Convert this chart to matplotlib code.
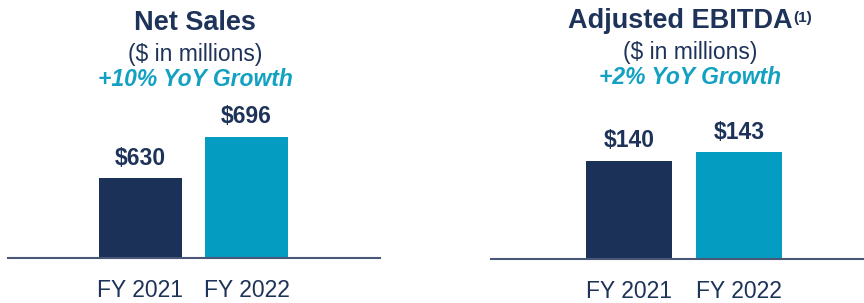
import matplotlib
matplotlib.use("Agg")
import matplotlib.pyplot as plt

years = ["FY 2021", "FY 2022"]
net_sales = [630, 696]
ebitda = [140, 143]
net_sales_labels = ["$630", "$696"]
ebitda_labels = ["$140", "$143"]

NAVY = "#1B3158"
TEAL = "#059CC1"
TEXT = "#1E3359"
GROWTH = "#12A1C3"
LINE = "#4A5878"

plt.rcParams["font.family"] = ["Liberation Sans", "DejaVu Sans"]

W, H = 864, 303
fig = plt.figure(figsize=(W / 100, H / 100), dpi=100)


def px_axes(x0, x1, ybase, ytop):
    # pixel box (from top-left) -> figure fraction
    return fig.add_axes([x0 / W, (H - ybase) / H, (x1 - x0) / W, (ybase - ytop) / H])


def draw_panel(ax, values, labels, ylim, xlim):
    ax.bar([0, 1], values, width=0.78, color=[NAVY, TEAL], zorder=2)
    ax.set_ylim(*ylim)
    ax.set_xlim(*xlim)
    for i, (v, lab) in enumerate(zip(values, labels)):
        ax.annotate(lab, (i, v), xytext=(0, 6), textcoords="offset points",
                    ha="center", va="bottom", fontsize=16.5, fontweight="bold",
                    color=TEXT)
    for s in ["top", "left", "right"]:
        ax.spines[s].set_visible(False)
    ax.spines["bottom"].set_color(LINE)
    ax.spines["bottom"].set_linewidth(1.5)
    ax.set_yticks([])
    ax.set_xticks([0, 1])
    ax.set_xticklabels(years, fontsize=16.5, color=TEXT)
    ax.tick_params(axis="x", length=0, pad=15)


# Net Sales panel
ax1 = px_axes(8, 380, 258, 20)
draw_panel(ax1, net_sales, net_sales_labels, (501, 884), (-1.25, 2.26))

# Adjusted EBITDA panel
ax2 = px_axes(491, 864, 259, 20)
draw_panel(ax2, ebitda, ebitda_labels, (105, 190), (-1.25, 2.13))

# headers
fig.text(195 / W, 1 - 23 / H, "Net Sales", ha="center", va="center",
         fontsize=19.5, fontweight="bold", color=TEXT)
fig.text(195 / W, 1 - 55 / H, "($ in millions)", ha="center", va="center",
         fontsize=16.5, color=TEXT)
fig.text(195 / W, 1 - 80 / H, "+10% YoY Growth", ha="center", va="center",
         fontsize=16.5, fontweight="bold", style="italic", color=GROWTH)

t = fig.text(680 / W, 1 - 21 / H, "Adjusted EBITDA", ha="center", va="center",
             fontsize=19.5, fontweight="bold", color=TEXT)
ax2.annotate("(1)", xy=(1, 1), xycoords=t, xytext=(0.5, -2),
             textcoords="offset points", ha="left", va="top",
             fontsize=11, fontweight="bold", color=TEXT, annotation_clip=False)
fig.text(690 / W, 1 - 53 / H, "($ in millions)", ha="center", va="center",
         fontsize=16.5, color=TEXT)
fig.text(690 / W, 1 - 78 / H, "+2% YoY Growth", ha="center", va="center",
         fontsize=16.5, fontweight="bold", style="italic", color=GROWTH)

fig.savefig("out.png", dpi=100)
